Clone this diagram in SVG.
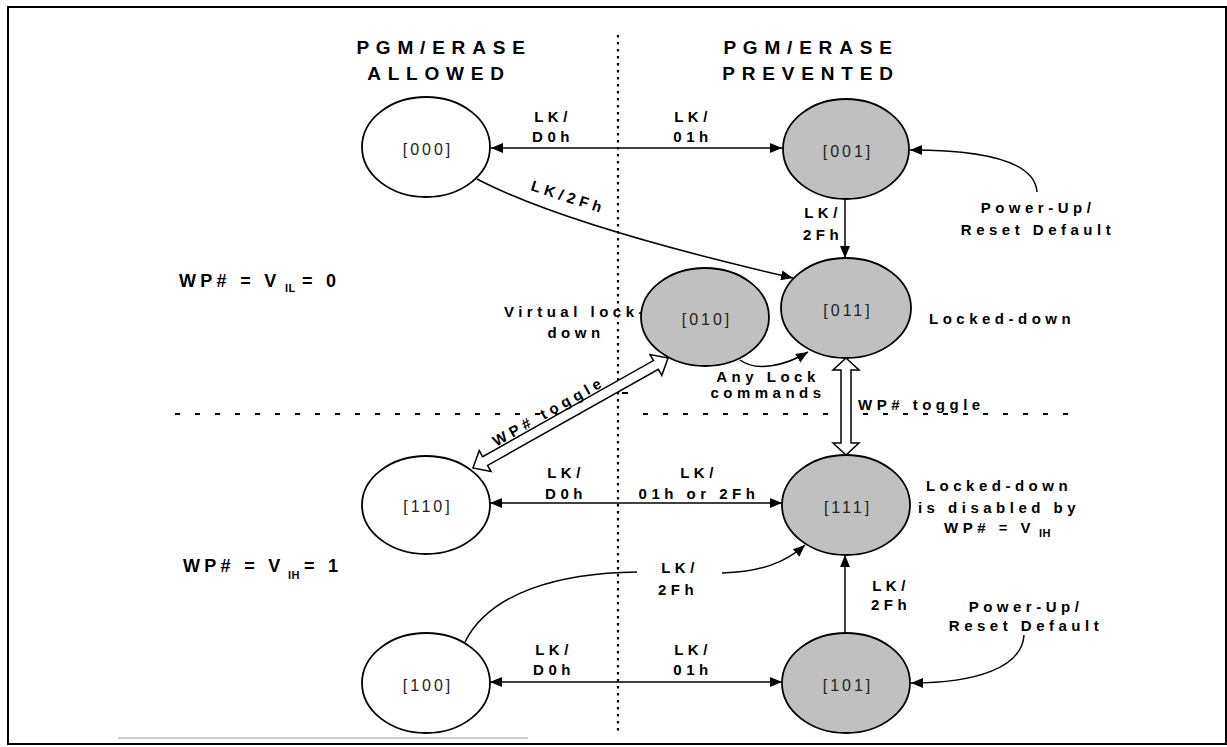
<svg xmlns="http://www.w3.org/2000/svg" width="1227" height="747" viewBox="0 0 1227 747">
<style>
text{font-family:"Liberation Sans",Arial,sans-serif;fill:#000}
.hd{font-size:19px;font-weight:bold;letter-spacing:6.8px;text-anchor:middle}
.lb{font-size:15px;font-weight:bold;letter-spacing:4.5px;text-anchor:middle}
.lbs{font-size:15px;font-weight:bold;letter-spacing:4.5px}
.big{font-size:18px;font-weight:bold;letter-spacing:4.3px}
.sub{font-size:11px;font-weight:bold;letter-spacing:0.5px}
.nt{font-size:16px;letter-spacing:3px;text-anchor:middle;fill:#222}
.w{fill:#fff;stroke:#000;stroke-width:1.8}
.g{fill:#c0c0c0;stroke:#000;stroke-width:1.8}
.e{fill:none;stroke:#000;stroke-width:1.5}
.ha{fill:#fff;stroke:#000;stroke-width:1.5;stroke-linejoin:miter}
</style>
<defs>
<marker id="ah" markerUnits="userSpaceOnUse" markerWidth="13" markerHeight="11" refX="12" refY="5" orient="auto-start-reverse">
<path d="M0,0 L12,5 L0,10 z" fill="#000"/>
</marker>
</defs>
<rect x="8" y="7" width="1218" height="737" fill="#fff" stroke="#000" stroke-width="2"/>
<line x1="118" y1="738" x2="528" y2="738" stroke="#999" stroke-width="1"/>

<g id="guides">
<line x1="618" y1="35" x2="618" y2="732" stroke="#000" stroke-width="2.2" stroke-dasharray="2.5 4.5"/>
<line x1="175" y1="414" x2="592" y2="414" stroke="#000" stroke-width="2" stroke-dasharray="5 15"/>
<line x1="643" y1="414" x2="1078" y2="414" stroke="#000" stroke-width="2" stroke-dasharray="5 15"/>
<line x1="622" y1="393" x2="628" y2="393" stroke="#000" stroke-width="2"/>
</g>

<g id="headings">
<text class="hd" x="444" y="54">PGM/ERASE</text>
<text class="hd" x="439" y="80">ALLOWED</text>
<text class="hd" x="811" y="54">PGM/ERASE</text>
<text class="hd" x="811" y="80">PREVENTED</text>
<text class="big" y="287"><tspan x="179">WP# = V</tspan><tspan class="sub" x="285" dy="5">IL</tspan><tspan x="302" dy="-5">= 0</tspan></text>
<text class="big" y="572"><tspan x="183">WP# = V</tspan><tspan class="sub" x="288" dy="7">IH</tspan><tspan x="304" dy="-7">= 1</tspan></text>
</g>

<g id="connectors">
<line class="e" x1="491" y1="148" x2="782" y2="148" marker-start="url(#ah)" marker-end="url(#ah)"/>
<line class="e" x1="490" y1="503" x2="782" y2="503" marker-start="url(#ah)" marker-end="url(#ah)"/>
<line class="e" x1="490" y1="682" x2="782" y2="682" marker-start="url(#ah)" marker-end="url(#ah)"/>
<line class="e" x1="845" y1="199" x2="845" y2="258" marker-end="url(#ah)"/>
<line class="e" x1="845" y1="633" x2="845" y2="555" marker-end="url(#ah)"/>
<path class="e" d="M477,179 C540,212 650,245 793,278" marker-end="url(#ah)"/>
<path class="e" d="M1037,192 C1035,162 985,150 910,150" marker-end="url(#ah)"/>
<path class="e" d="M1024,635 C1022,668 975,683 911,683" marker-end="url(#ah)"/>
<path class="e" d="M740,360 C756,372 785,366 808,352" marker-end="url(#ah)"/>
<path class="e" d="M465,642 C490,592 560,573 637,572"/>
<path class="e" d="M722,573 C760,572 785,563 805,545" marker-end="url(#ah)"/>
<polygon class="ha" points="846,358 859,370 851,370 851,443 859,443 846,455 833,443 841,443 841,370 833,370"/>
<polygon class="ha" transform="translate(570.5,413) rotate(-29.4)" points="-112,0 -98,-12 -98,-5 98,-5 98,-12 112,0 98,12 98,5 -98,5 -98,12"/>
</g>

<g id="edge-labels">
<text class="lb" x="553" y="122">LK/</text>
<text class="lb" x="553" y="142">D0h</text>
<text class="lb" x="693" y="122">LK/</text>
<text class="lb" x="693" y="142">01h</text>
<text class="lbs" transform="translate(530,190) rotate(18)" x="0" y="0">LK/2Fh</text>
<text class="lb" x="823" y="218">LK/</text>
<text class="lb" x="823" y="240">2Fh</text>
<text class="lb" x="1038" y="213">Power-Up/</text>
<text class="lb" x="1038" y="235">Reset Default</text>
<text class="lb" x="576" y="317">Virtual lock-</text>
<text class="lb" x="576" y="338">down</text>
<text class="lb" x="768" y="382">Any Lock</text>
<text class="lb" x="768" y="398">commands</text>
<text class="lbs" x="929" y="324">Locked-down</text>
<text class="lbs" x="858" y="410">WP# toggle</text>
<text class="lb" transform="translate(570.5,413) rotate(-29.4)" x="-18" y="-7">WP# toggle</text>
<text class="lb" x="566" y="478">LK/</text>
<text class="lb" x="566" y="499">D0h</text>
<text class="lb" x="699" y="478">LK/</text>
<text class="lb" x="699" y="499">01h or 2Fh</text>
<text class="lb" x="999" y="491">Locked-down</text>
<text class="lb" x="999" y="513">is disabled by</text>
<text class="lbs" y="533"><tspan x="944">WP# = V</tspan><tspan class="sub" x="1039" dy="4">IH</tspan></text>
<text class="lb" x="680" y="573">LK/</text>
<text class="lb" x="678" y="595">2Fh</text>
<text class="lb" x="891" y="591">LK/</text>
<text class="lb" x="891" y="610">2Fh</text>
<text class="lb" x="1026" y="612">Power-Up/</text>
<text class="lb" x="1026" y="631">Reset Default</text>
<text class="lb" x="554" y="655">LK/</text>
<text class="lb" x="554" y="675">D0h</text>
<text class="lb" x="693" y="655">LK/</text>
<text class="lb" x="693" y="675">01h</text>
</g>

<g id="n000"><ellipse class="w" cx="426" cy="147" rx="64" ry="50"/><text class="nt" x="428" y="155">[000]</text></g>
<g id="n001"><ellipse class="g" cx="846" cy="149" rx="63" ry="50"/><text class="nt" x="848" y="157">[001]</text></g>
<g id="n010"><ellipse class="g" cx="705" cy="317" rx="64" ry="49"/><text class="nt" x="707" y="325">[010]</text></g>
<g id="n011"><ellipse class="g" cx="846" cy="308" rx="65" ry="50"/><text class="nt" x="848" y="316">[011]</text></g>
<g id="n110"><ellipse class="w" cx="426" cy="505" rx="64" ry="49"/><text class="nt" x="428" y="512">[110]</text></g>
<g id="n111"><ellipse class="g" cx="846" cy="505" rx="64" ry="50"/><text class="nt" x="848" y="513">[111]</text></g>
<g id="n100"><ellipse class="w" cx="426" cy="683" rx="64" ry="50"/><text class="nt" x="428" y="691">[100]</text></g>
<g id="n101"><ellipse class="g" cx="846" cy="683" rx="64" ry="50"/><text class="nt" x="848" y="691">[101]</text></g>
</svg>
